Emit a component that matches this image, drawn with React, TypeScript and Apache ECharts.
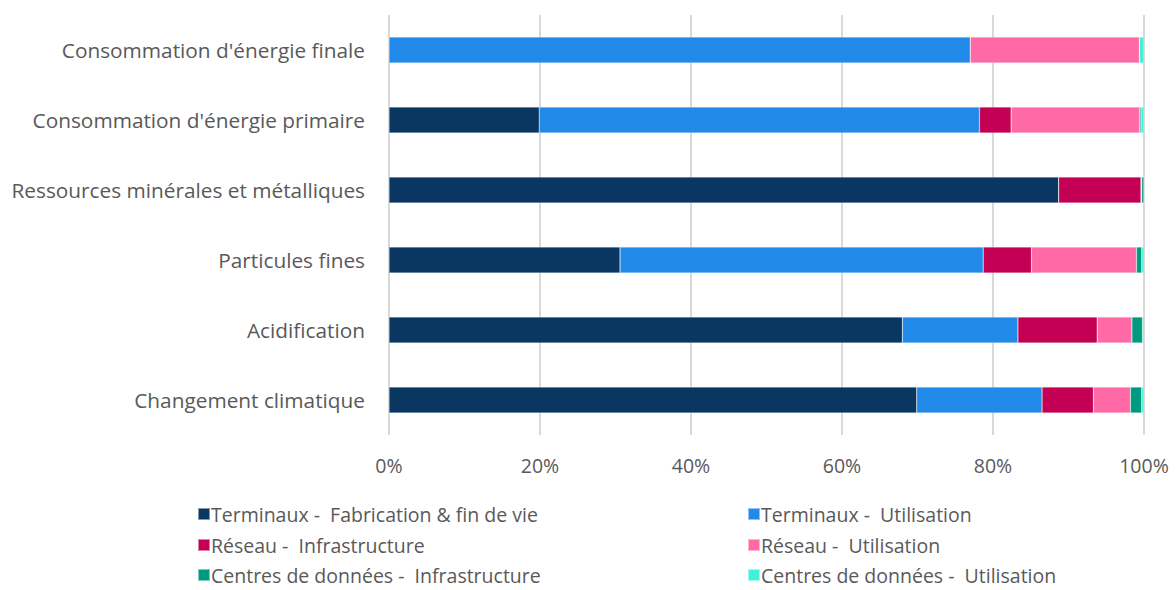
import React, { useEffect, useRef } from "react";
import * as echarts from "echarts";

const categories = [
  "Consommation d'énergie finale",
  "Consommation d'énergie primaire",
  "Ressources minérales et métalliques",
  "Particules fines",
  "Acidification",
  "Changement climatique",
];

const seriesNames = [
  "Terminaux -  Fabrication & fin de vie",
  "Terminaux -  Utilisation",
  "Réseau -  Infrastructure",
  "Réseau -  Utilisation",
  "Centres de données -  Infrastructure",
  "Centres de données -  Utilisation",
];

const terminauxFab = [0, 19.9, 88.7, 30.6, 68.0, 69.9];
const terminauxUtil = [77.0, 58.3, 0, 48.1, 15.3, 16.6];
const reseauInfra = [0, 4.2, 10.9, 6.4, 10.5, 6.8];
const reseauUtil = [22.4, 17.0, 0.1, 13.9, 4.6, 4.9];
const centresInfra = [0, 0.2, 0.3, 0.7, 1.4, 1.5];
const centresUtil = [0.6, 0.4, 0, 0.3, 0.2, 0.3];

const seriesValues = [terminauxFab, terminauxUtil, reseauInfra, reseauUtil, centresInfra, centresUtil];
const colors = ["#0a3762", "#2189e8", "#c40054", "#ff6aa6", "#009a80", "#40f2d8"];
const xTicks = [0, 20, 40, 60, 80, 100];

export default function App() {
  const ref = useRef<HTMLDivElement>(null);
  useEffect(() => {
    document.body.style.margin = "0";
    const chart = echarts.init(ref.current!, undefined, { renderer: "svg" });
    const font = "'Open Sans', sans-serif";
    const legendText = { color: "#595959", fontSize: 19.5, lineHeight: 20, fontFamily: font, padding: [0, 0, 0, -4] };
    const legendLefts = [197, 747];
    const legendTops = [504, 535, 565];
    const legends = seriesNames.map((name, i) => ({
      data: [name],
      orient: "horizontal",
      left: legendLefts[i % 2],
      top: legendTops[Math.floor(i / 2)],
      padding: 0,
      itemWidth: 12,
      itemHeight: 12,
      icon: "rect",
      textStyle: legendText,
    }));
    chart.setOption({
      animation: false,
      backgroundColor: "#ffffff",
      textStyle: { fontFamily: font },
      grid: { left: 389, right: 32, top: 15, height: 420, containLabel: false },
      xAxis: {
        type: "value",
        min: xTicks[0],
        max: xTicks[xTicks.length - 1],
        interval: 20,
        axisLine: { show: false },
        axisTick: { show: false },
        splitLine: { show: true, lineStyle: { color: "#d9d9d9", width: 2 } },
        axisLabel: {
          formatter: (v: number) => v + "%",
          color: "#595959",
          fontSize: 19.5,
          fontFamily: font,
          margin: 20,
        },
      },
      yAxis: {
        type: "category",
        data: categories,
        inverse: true,
        axisLine: { show: false },
        axisTick: { show: false },
        axisLabel: { color: "#595959", fontSize: 20.8, fontFamily: font, margin: 24 },
      },
      legend: legends,
      series: seriesNames.map((name, i) => ({
        name,
        type: "bar",
        stack: "total",
        barWidth: 26,
        data: seriesValues[i],
        itemStyle: { color: colors[i], borderColor: "rgba(255,255,255,0.5)", borderWidth: 0.5 },
      })),
    });
    return () => chart.dispose();
  }, []);
  return <div ref={ref} style={{ width: 1176, height: 590 }} />;
}
